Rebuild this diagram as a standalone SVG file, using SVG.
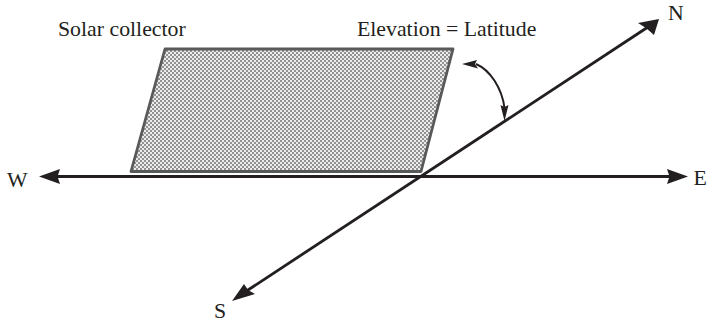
<svg xmlns="http://www.w3.org/2000/svg" width="707" height="323" viewBox="0 0 707 323">
<style>
text{font-family:"Liberation Serif","Times New Roman",serif;font-size:21.800px;fill:#231f20}
.ln{fill:none;stroke:#231f20;stroke-width:2.800}
.hd{fill:#231f20;stroke:none}
</style>
<defs>
<pattern id="chk" width="4" height="4" patternUnits="userSpaceOnUse">
<rect width="4" height="4" fill="#ececec"/>
<rect width="2" height="2" fill="#929292"/>
<rect x="2" y="2" width="2" height="2" fill="#929292"/>
</pattern>
</defs>
<rect width="707" height="323" fill="#fff"/>
<g id="collector">
<path d="M165 49H453L421 171.500H131Z" fill="url(#chk)" stroke="#58595b" stroke-width="2.800" stroke-linejoin="round"/>
<text x="58" y="36">Solar collector</text>
</g>
<g id="connectors">
<path class="ln" d="M55 176.500H672"/>
<path class="hd" d="M39 176.500L60 169L57.500 176.500L60 184Z"/>
<path class="hd" d="M688 176.500L667 169L669.500 176.500L667 184Z"/>
<path class="ln" d="M245 292L648 27"/>
<path class="hd" d="M659 19L638 23L646 28L654 35Z"/>
<path class="hd" d="M232 301L244 284L248 290L255 294Z"/>
<path d="M476 64C490 70 502 88 504.500 108" fill="none" stroke="#231f20" stroke-width="2"/>
<path class="hd" d="M462 64L477 60L475 64L478 68.500Z"/>
<path class="hd" d="M504.500 121L500.500 105L504.500 107L508.500 105Z"/>
</g>
<g id="labels">
<text x="357" y="36">Elevation = Latitude</text>
<text x="7" y="186.500">W</text>
<text x="693.500" y="185">E</text>
<text x="668" y="20">N</text>
<text x="214" y="318">S</text>
</g>
</svg>
